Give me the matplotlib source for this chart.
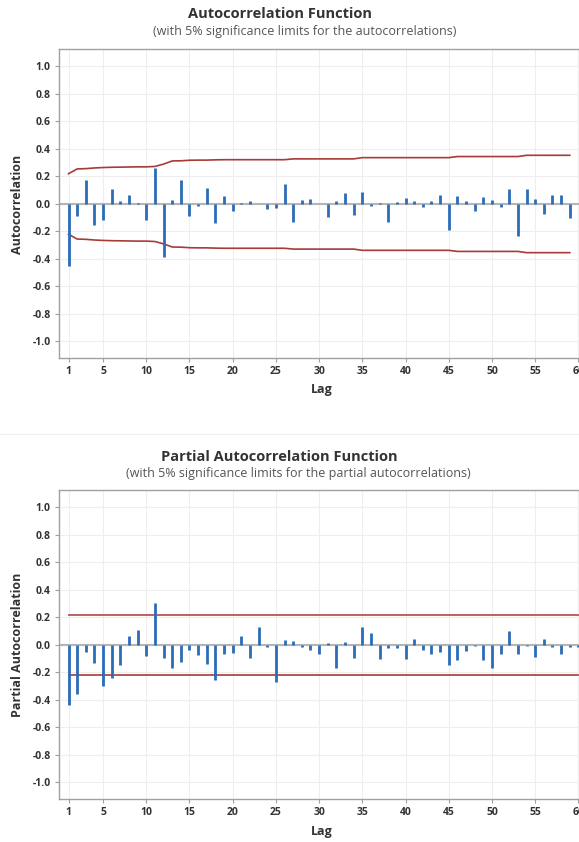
import numpy as np
import matplotlib
matplotlib.use("Agg")
import matplotlib.pyplot as plt
from matplotlib.ticker import FormatStrFormatter

plt.rcParams['font.family'] = ['Open Sans', 'DejaVu Sans']

# ACF values, lags 1..59 (lag 60 lies past the right edge of the picture)
acf_values = [-0.45, -0.09, 0.176, -0.15, -0.12, 0.108, 0.02, 0.067, 0.007, -0.12,
              0.265, -0.385, 0.03, 0.176, -0.084, -0.017, 0.116, -0.135, 0.058, -0.048,
              0.005, 0.022, 0.003, -0.036, -0.03, 0.147, -0.128, 0.03, 0.036, -0.002,
              -0.096, 0.02, 0.082, -0.077, 0.089, -0.012, 0.01, -0.128, 0.014, 0.04,
              0.02, -0.02, 0.024, 0.065, -0.186, 0.055, 0.022, -0.048, 0.048, 0.03,
              -0.024, 0.106, -0.234, 0.106, 0.039, -0.07, 0.065, 0.065, -0.10]

# upper 5% significance limit for each ACF lag (lower one is the mirror)
acf_limits = [0.22, 0.255, 0.257, 0.262, 0.265, 0.267, 0.268, 0.269, 0.27, 0.27,
              0.273, 0.29, 0.313, 0.314, 0.318, 0.319, 0.319, 0.321, 0.322, 0.322,
              0.322, 0.322, 0.322, 0.322, 0.322, 0.322, 0.328, 0.328, 0.328, 0.328,
              0.328, 0.328, 0.328, 0.328, 0.337, 0.337, 0.337, 0.337, 0.337, 0.337,
              0.337, 0.337, 0.337, 0.337, 0.337, 0.345, 0.345, 0.345, 0.345, 0.345,
              0.345, 0.345, 0.345, 0.354, 0.354, 0.354, 0.354, 0.354, 0.354]

# PACF values, lags 1..60
pacf_values = [-0.44, -0.355, -0.052, -0.133, -0.295, -0.243, -0.143, 0.067, 0.11, -0.081,
               0.305, -0.093, -0.171, -0.121, -0.04, -0.071, -0.136, -0.252, -0.062, -0.057,
               0.067, -0.098, 0.129, -0.017, -0.271, 0.036, 0.031, -0.017, -0.033, -0.067,
               0.012, -0.164, 0.024, -0.095, 0.129, 0.086, -0.105, -0.021, -0.019, -0.105,
               0.045, -0.036, -0.064, -0.052, -0.148, -0.112, -0.043, -0.005, -0.112, -0.169,
               -0.062, 0.105, -0.067, -0.005, -0.09, 0.043, -0.017, -0.069, -0.017, -0.012]
pacf_limit = 0.216

x_ticks = [1, 5, 10, 15, 20, 25, 30, 35, 40, 45, 50, 55, 60]
y_ticks = [-1.0, -0.8, -0.6, -0.4, -0.2, 0.0, 0.2, 0.4, 0.6, 0.8, 1.0]

BAR = '#2b6cb8'
LIM = '#a83a3a'
TXT = '#333333'
SPINE = '#a0a0a0'

W, H = 579, 842
fig = plt.figure(figsize=(W / 100, H / 100), dpi=100)


def make_axes(top_px, bottom_px):
    # the graph runs past the right edge of the picture, like the reference crop
    left_px, right_px = 59, 600
    return fig.add_axes([left_px / W, 1 - bottom_px / H,
                         (right_px - left_px) / W, (bottom_px - top_px) / H])


def style_axes(ax):
    ax.set_xlim(-0.1, 62.5)
    ax.set_ylim(-1.12, 1.127)
    ax.set_xticks(x_ticks)
    ax.set_yticks(y_ticks)
    ax.yaxis.set_major_formatter(FormatStrFormatter('%.1f'))
    ax.grid(True, color='#eeeeee', linewidth=0.8)
    ax.set_axisbelow(True)
    for s in ['left', 'bottom', 'top']:
        ax.spines[s].set_color(SPINE)
        ax.spines[s].set_linewidth(1.0)
    ax.spines['right'].set_visible(False)
    ax.tick_params(axis='both', colors=SPINE, labelcolor=TXT, length=3, width=0.8,
                   labelsize=7.5, pad=3)
    for lab in ax.get_xticklabels() + ax.get_yticklabels():
        lab.set_fontweight('bold')
    ax.axhline(0, color='#b5b5b5', linewidth=1.5, zorder=1)


# --- ACF ---
ax1 = make_axes(49, 358)
style_axes(ax1)
lags_acf = np.arange(1, len(acf_values) + 1)
ax1.vlines(lags_acf, 0, acf_values, color=BAR, linewidth=2, zorder=3)
ax1.plot(lags_acf, acf_limits, color=LIM, linewidth=1.2, zorder=2)
ax1.plot(lags_acf, [-v for v in acf_limits], color=LIM, linewidth=1.2, zorder=2)

fig.text(280 / W, 1 - 14 / H, 'Autocorrelation Function', ha='center', va='center',
         fontsize=10.5, fontweight='bold', color=TXT)
fig.text(305 / W, 1 - 32 / H, '(with 5% significance limits for the autocorrelations)',
         ha='center', va='center', fontsize=9, color='#555555')
fig.text(18 / W, 1 - 204 / H, 'Autocorrelation', ha='center', va='center', rotation=90,
         fontsize=9, fontweight='bold', color=TXT)
fig.text(322 / W, 1 - 390 / H, 'Lag', ha='center', va='center',
         fontsize=9, fontweight='bold', color=TXT)

# separator between the two graphs
fig.add_artist(plt.Line2D([0, 1], [1 - 434 / H, 1 - 434 / H], color='#eeeeee', linewidth=0.8))

# --- PACF ---
ax2 = make_axes(490, 799)
style_axes(ax2)
lags_pacf = np.arange(1, len(pacf_values) + 1)
ax2.vlines(lags_pacf, 0, pacf_values, color=BAR, linewidth=2, zorder=3)
ax2.plot(lags_pacf, [pacf_limit] * len(lags_pacf), color='#c06060', linewidth=1.4, zorder=2)
ax2.plot(lags_pacf, [-pacf_limit] * len(lags_pacf), color=LIM, linewidth=1.2, zorder=2)

fig.text(279 / W, 1 - 457 / H, 'Partial Autocorrelation Function', ha='center', va='center',
         fontsize=10.5, fontweight='bold', color=TXT)
fig.text(298 / W, 1 - 474 / H, '(with 5% significance limits for the partial autocorrelations)',
         ha='center', va='center', fontsize=9, color='#555555')
fig.text(18 / W, 1 - 645 / H, 'Partial Autocorrelation', ha='center', va='center', rotation=90,
         fontsize=9, fontweight='bold', color=TXT)
fig.text(322 / W, 1 - 831 / H, 'Lag', ha='center', va='center',
         fontsize=9, fontweight='bold', color=TXT)

fig.savefig('out.png', dpi=100, facecolor='white')
